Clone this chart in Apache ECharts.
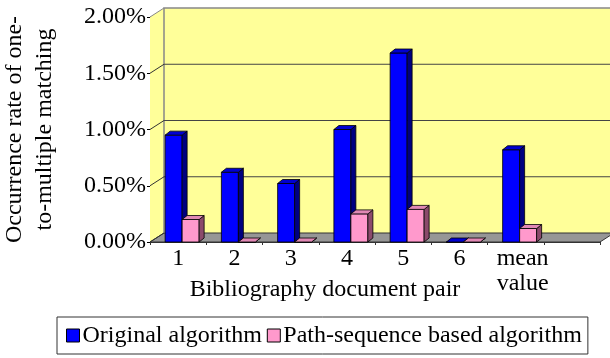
<!DOCTYPE html>
<html>
<head>
<meta charset="utf-8">
<script src="https://cdn.jsdelivr.net/npm/echarts@6/dist/echarts.min.js"></script>
<style>
  html, body { margin: 0; padding: 0; background: #fff; }
  #chart { width: 610px; height: 358px; }
</style>
</head>
<body>
<div id="chart"></div>
<script>
// values are percentages
var categories = ["1", "2", "3", "4", "5", "6", "mean\nvalue", ""];
var originalAlg = [0.95, 0.62, 0.52, 1.00, 1.68, 0, 0.82, null];
var pathSeqAlg = [0.20, 0, 0, 0.25, 0.29, 0, 0.12, null];
var yTicks = [0, 0.5, 1, 1.5, 2];

var FONT = "Liberation Serif, Times New Roman, serif";
var DX = 14, DY = -9;   // depth of the back wall
var BW = 17, BD = 5, BE = 4; // bar width / depth

let chart = echarts.init(document.getElementById("chart"));

// walls, floor and back grid lines
function renderFrame(params, api) {
  let cs = params.coordSys;
  let x0 = cs.x, x1 = cs.x + cs.width;
  let yb = api.coord([0, 0])[1];
  let yt = api.coord([0, yTicks[yTicks.length - 1]])[1];
  let children = [];
  // back wall + left wall
  children.push({
    type: "polygon",
    shape: { points: [[x0, yb], [x0, yt], [x0 + DX, yt + DY], [x1 + DX + 20, yt + DY], [x1 + DX + 20, yb + DY], [x0 + DX, yb + DY]] },
    style: { fill: "#FFFF99", stroke: null }
  });
  // floor
  children.push({
    type: "polygon",
    shape: { points: [[x0, yb], [x0 + DX, yb + DY], [x1 + DX, yb + DY], [x1, yb]] },
    style: { fill: "#969696", stroke: "#333", lineWidth: 1 }
  });
  // back wall border
  children.push({
    type: "polyline",
    shape: { points: [[x0 + DX, yb + DY], [x0 + DX, yt + DY], [x1 + DX + 20, yt + DY]] },
    style: { stroke: "#888", lineWidth: 1.5, fill: null }
  });
  yTicks.forEach(function (t) {
    let y = api.coord([0, t])[1];
    children.push({
      type: "line",
      shape: { x1: x0, y1: y, x2: x0 + DX, y2: y + DY },
      style: { stroke: t === yTicks[yTicks.length - 1] ? "#888" : "#333", lineWidth: 1 }
    });
    if (t > 0 && t < yTicks[yTicks.length - 1]) {
      children.push({
        type: "line",
        shape: { x1: x0 + DX, y1: y + DY, x2: x1 + DX + 20, y2: y + DY },
        style: { stroke: "#444", lineWidth: 1 }
      });
    }
  });
  return { type: "group", children: children };
}

function barRenderer(offset, front, top, side) {
  return function (params, api) {
    let v = api.value(1);
    if (v == null || isNaN(v)) return;
    let p = api.coord([api.value(0), v]);
    let base = api.coord([api.value(0), 0])[1];
    let x = p[0] + offset, y = p[1];
    let edge = { stroke: "#000", lineWidth: 0.8 };
    return {
      type: "group",
      children: [
        { type: "rect", shape: { x: x, y: y, width: BW, height: base - y },
          style: Object.assign({ fill: front }, edge) },
        { type: "polygon", shape: { points: [[x + BW, y], [x + BW + BD, y - BE], [x + BW + BD, base - BE], [x + BW, base]] },
          style: Object.assign({ fill: side }, edge) },
        { type: "polygon", shape: { points: [[x, y], [x + BD, y - BE], [x + BW + BD, y - BE], [x + BW, y]] },
          style: Object.assign({ fill: top }, edge) }
      ]
    };
  };
}

// the two-line label sits a bit to the right in the original
let xData = categories.map(function (c) {
  return c.indexOf("\n") >= 0 ? { value: c, textStyle: { padding: [0, 0, 0, 14] } } : c;
});

let option = {
  backgroundColor: "#fff",
  animation: false,
  grid: { left: 150, right: 10, top: 17, bottom: 116, outerBoundsMode: "none", containLabel: false },
  legend: {
    left: 57,
    top: 317,
    padding: [5, 6, 5, 9],
    itemGap: 5,
    itemWidth: 13,
    itemHeight: 13,
    icon: "rect",
    borderColor: "#333",
    borderWidth: 1,
    itemStyle: { borderColor: "#000", borderWidth: 1 },
    textStyle: { fontFamily: FONT, fontSize: 24, lineHeight: 27, color: "#000", padding: [0, 0, 0, -2] },
    data: ["Original algorithm", "Path-sequence based algorithm"]
  },
  xAxis: {
    type: "category",
    data: xData,
    name: "Bibliography document pair",
    nameLocation: "middle",
    nameGap: 36,
    nameMoveOverlap: false,
    nameTextStyle: { fontFamily: FONT, fontSize: 24, color: "#000", padding: [0, 100, 0, 0] },
    axisLine: { lineStyle: { color: "#333", width: 1 } },
    axisTick: { show: true, length: 3, lineStyle: { color: "#333" } },
    axisLabel: { interval: 0, hideOverlap: false, fontFamily: FONT, fontSize: 24, color: "#000", margin: 4, lineHeight: 25 },
    splitLine: { show: false }
  },
  yAxis: {
    type: "value",
    min: 0,
    max: 2,
    interval: 0.5,
    name: "Occurrence rate of one-\nto-multiple matching",
    nameLocation: "middle",
    nameRotate: 90,
    nameGap: 90,
    nameMoveOverlap: false,
    nameTextStyle: { fontFamily: FONT, fontSize: 24, color: "#000", lineHeight: 30 },
    axisLine: { show: true, lineStyle: { color: "#000", width: 1 } },
    axisTick: { show: true, length: 3, lineStyle: { color: "#000" } },
    axisLabel: {
      fontFamily: FONT, fontSize: 24, color: "#000", margin: 4,
      formatter: function (v) { return v.toFixed(2) + "%"; }
    },
    splitLine: { show: false }
  },
  series: [
    {
      type: "custom",
      name: "frame",
      z: 1,
      silent: true,
      renderItem: renderFrame,
      data: [[0, 0]]
    },
    {
      type: "custom",
      name: "Original algorithm",
      z: 2,
      itemStyle: { color: "#0000FF" },
      renderItem: barRenderer(-13, "#0000FF", "#0000D0", "#000080"),
      data: originalAlg.map(function (v, i) { return [i, v]; })
    },
    {
      type: "custom",
      name: "Path-sequence based algorithm",
      z: 3,
      itemStyle: { color: "#FF99CC" },
      renderItem: barRenderer(4, "#FF99CC", "#E088B4", "#8B4A6B"),
      data: pathSeqAlg.map(function (v, i) { return [i, v]; })
    }
  ]
};

chart.setOption(option);
window.addEventListener("resize", () => {
  chart.resize();
});
</script>
</body>
</html>
